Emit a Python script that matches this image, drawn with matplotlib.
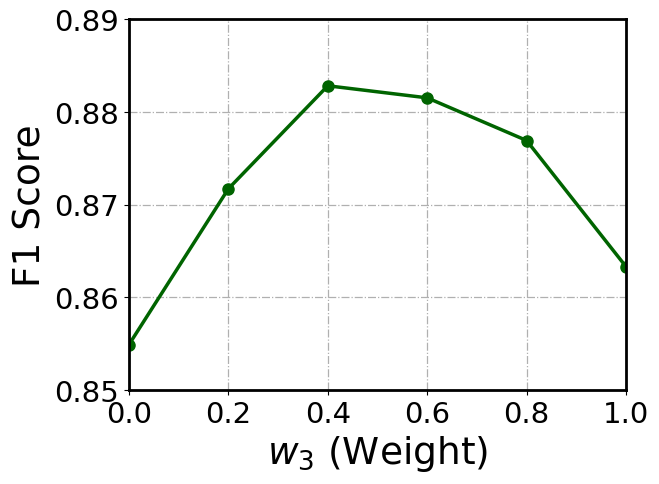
import matplotlib
matplotlib.use("Agg")
import matplotlib.pyplot as plt

weights = [0.0, 0.2, 0.4, 0.6, 0.8, 1.0]
f1 = [0.8549, 0.8717, 0.8828, 0.8815, 0.8769, 0.8633]

fig = plt.figure(figsize=(6.59, 4.85), dpi=100)
ax = fig.add_axes([129/659, 1 - 391/485, (626-129)/659, (391-20)/485])

ax.plot(weights, f1, color="darkgreen", linewidth=2.5, marker="o", markersize=8)

ax.set_xlim(0.0, 1.0)
ax.set_ylim(0.85, 0.89)
ax.set_xticks([0.0, 0.2, 0.4, 0.6, 0.8, 1.0])
ax.set_yticks([0.85, 0.86, 0.87, 0.88, 0.89])
ax.grid(True, linestyle="-.", color="#b0b0b0", linewidth=0.9)
ax.tick_params(labelsize=21)
for s in ax.spines.values():
    s.set_linewidth(2)

ax.set_xlabel("$w_3$ (Weight)", fontsize=27)
ax.set_ylabel("F1 Score", fontsize=27)

fig.savefig("out.png", dpi=100)
